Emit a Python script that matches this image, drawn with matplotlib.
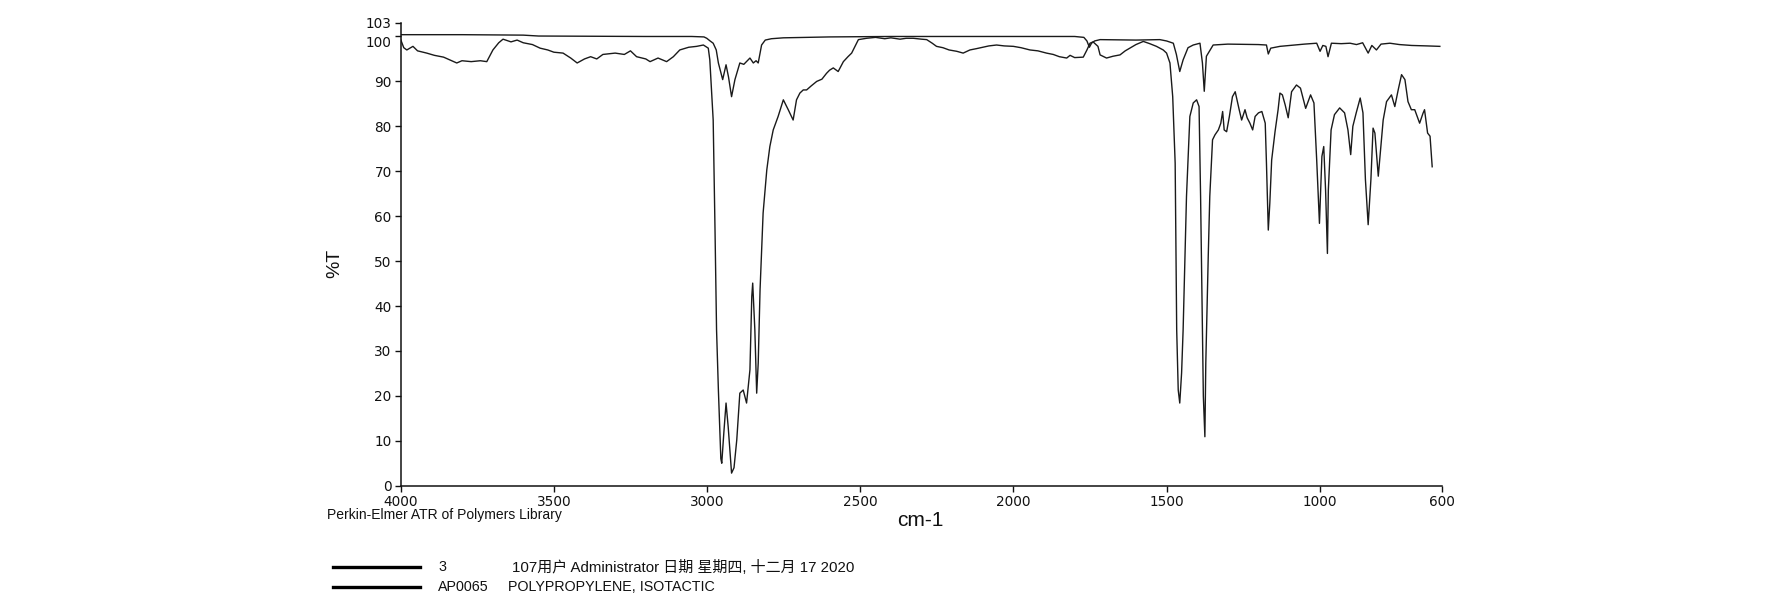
import matplotlib
matplotlib.use("Agg")
import matplotlib.pyplot as plt
import matplotlib.transforms as mtransforms
from matplotlib.lines import Line2D

# ---------------- data ----------------
sample_wn = [4000, 3990, 3980, 3960, 3945, 3915, 3890, 3860, 3840, 3817, 3800, 3770, 3740, 3719,
             3699, 3680, 3666, 3640, 3620, 3600, 3570, 3545, 3520, 3500, 3470, 3445, 3424, 3400,
             3380, 3360, 3340, 3300, 3270, 3250, 3230, 3200, 3186, 3160, 3132, 3110, 3089, 3060,
             3034, 3012, 2996, 2991, 2980, 2974, 2969, 2963, 2955, 2952, 2945, 2938, 2931, 2920,
             2912, 2903, 2893, 2882, 2871, 2860, 2854, 2851, 2844, 2838, 2833, 2827, 2817, 2805,
             2795, 2784, 2768, 2751, 2735, 2719, 2708, 2697, 2686, 2675, 2660, 2642, 2625, 2610,
             2600, 2588, 2572, 2555, 2540, 2528, 2506, 2479, 2450, 2420, 2400, 2370, 2350, 2327,
             2300, 2283, 2265, 2251, 2230, 2210, 2185, 2164, 2142, 2120, 2100, 2080, 2055, 2030,
             2000, 1975, 1946, 1920, 1892, 1870, 1850, 1826, 1815, 1800, 1772, 1760, 1750, 1740,
             1724, 1717, 1696, 1675, 1652, 1635, 1620, 1600, 1576, 1555, 1533, 1511, 1500, 1489,
             1480, 1472, 1467, 1462, 1457, 1451, 1446, 1435, 1424, 1413, 1402, 1394, 1389, 1386,
             1380, 1375, 1372, 1364, 1359, 1350, 1342, 1331, 1323, 1317, 1312, 1304, 1295, 1285,
             1276, 1263, 1255, 1244, 1237, 1228, 1219, 1211, 1200, 1189, 1178, 1174, 1168, 1163,
             1157, 1146, 1136, 1130, 1122, 1113, 1103, 1092, 1076, 1063, 1046, 1030, 1019, 1010,
             1001, 993, 987, 981, 975, 972, 963, 952, 935, 919, 908, 899, 892, 881, 868, 859,
             851, 842, 833, 826, 820, 809, 800, 793, 782, 766, 755, 744, 733, 722, 712, 701,
             690, 674, 663, 658, 648, 640, 633]
sample_t = [99.3, 97.5, 97.0, 97.8, 96.8, 96.3, 95.8, 95.4, 94.8, 94.1, 94.6, 94.4, 94.6, 94.4,
            97.0, 98.6, 99.4, 98.8, 99.2, 98.6, 98.2, 97.4, 97.0, 96.5, 96.3, 95.2, 94.1, 95.0,
            95.5, 95.0, 96.0, 96.3, 96.0, 96.8, 95.5, 95.0, 94.4, 95.2, 94.4, 95.5, 97.0, 97.6,
            97.8, 98.1, 97.4, 94.8, 81.4, 56.9, 34.7, 21.3, 6.0, 5.0, 12.0, 18.4, 13.1, 2.8,
            4.0, 10.2, 20.6, 21.3, 18.4, 25.8, 42.1, 45.1, 34.7, 20.6, 27.3, 43.6, 60.7, 70.3,
            75.5, 79.2, 82.2, 85.9, 83.7, 81.4, 85.9, 87.4, 88.1, 88.1, 89.0, 90.0, 90.5, 91.8,
            92.5, 93.0, 92.2, 94.4, 95.5, 96.3, 99.3, 99.6, 99.8, 99.5, 99.7, 99.4, 99.6, 99.6,
            99.4, 99.3, 98.5, 97.8, 97.5, 97.0, 96.7, 96.3, 97.0, 97.3, 97.6, 97.9, 98.1, 97.9,
            97.8, 97.5, 97.0, 96.8, 96.3, 96.0, 95.5, 95.2, 95.8, 95.3, 95.4, 97.0, 98.5, 98.8,
            97.8, 95.9, 95.2, 95.6, 95.9, 96.8, 97.4, 98.2, 98.9, 98.4, 97.8, 97.0, 96.3, 94.1,
            86.6, 71.8, 34.7, 21.3, 18.4, 25.1, 34.7, 64.4, 82.2, 85.2, 85.9, 84.4, 64.4, 49.6,
            19.9, 10.9, 27.3, 51.1, 64.4, 77.0, 78.1, 79.2, 80.7, 83.3, 79.2, 78.8, 82.2, 86.6,
            87.7, 83.7, 81.4, 83.7, 81.9, 80.7, 79.2, 82.2, 83.0, 83.3, 80.7, 71.8, 56.9, 62.9,
            72.5, 78.8, 83.7, 87.4, 87.0, 84.8, 81.9, 87.7, 89.2, 88.5, 84.0, 87.0, 85.2, 72.5,
            58.4, 73.3, 75.5, 65.8, 51.7, 65.8, 79.2, 82.6, 84.1, 83.0, 79.2, 73.7, 80.0, 83.0, 86.3, 83.0,
            68.2, 58.1, 68.2, 79.6, 78.5, 68.9, 76.0, 81.4, 85.5, 87.0, 84.4, 88.1, 91.5, 90.4, 85.5, 83.7,
            83.7, 80.7, 82.9, 83.7, 78.5, 77.8, 71.0]

ref_wn = [4000, 3800, 3600, 3550, 3200, 3050, 3010, 3001, 2990, 2980, 2970, 2963, 2949, 2938,
          2930, 2920, 2909, 2893, 2880, 2860, 2849, 2840, 2833, 2822, 2810, 2790, 2751, 2600,
          2400, 2000, 1800, 1770, 1760, 1752, 1745, 1735, 1717, 1600, 1522, 1500, 1478, 1468,
          1457, 1446, 1430, 1413, 1391, 1383, 1377, 1370, 1348, 1300, 1200, 1174, 1168, 1160,
          1130, 1050, 1010, 999, 990, 980, 973, 962, 930, 901, 880, 860, 842, 830, 815, 800,
          771, 740, 700, 650, 608]
ref_t = [100.4, 100.4, 100.3, 100.1, 100.0, 100.0, 99.9, 99.6, 99.0, 98.5, 97.0, 94.1, 90.4, 93.7,
         91.0, 86.6, 90.4, 94.1, 93.8, 95.2, 94.1, 94.6, 94.1, 98.1, 99.2, 99.5, 99.7, 99.9,
         100.0, 100.0, 100.0, 99.8, 99.0, 97.6, 98.5, 99.0, 99.3, 99.2, 99.3, 99.0, 98.5, 96.0,
         92.2, 94.8, 97.5, 98.1, 98.5, 94.1, 87.8, 95.6, 98.1, 98.3, 98.2, 98.1, 96.1, 97.4,
         97.8, 98.3, 98.5, 96.7, 98.0, 97.8, 95.5, 98.5, 98.4, 98.5, 98.2, 98.6, 96.3, 98.0, 97.0, 98.3,
         98.5, 98.2, 98.0, 97.9, 97.8]

x_ticks = [4000, 3500, 3000, 2500, 2000, 1500, 1000, 600]
y_ticks = [0, 10, 20, 30, 40, 50, 60, 70, 80, 90, 100, 103]

legend_ids = ["3", "AP0065"]
legend_desc = ["107用户 Administrator 日期 星期四, 十二月 17 2020",
               "POLYPROPYLENE, ISOTACTIC"]
footer_text = "Perkin-Elmer ATR of Polymers Library"
x_label = "cm-1"
y_label = "%T"

# ---------------- figure ----------------
W, H = 1775, 599
fig = plt.figure(figsize=(W / 100, H / 100), dpi=100)
fig.patch.set_facecolor("white")

def fx(px):
    return px / W

def fy(py):
    return 1 - py / H

left, right, top, bottom = 400.7, 1442.3, 23.0, 485.7
ax = fig.add_axes([fx(left), fy(bottom), fx(right) - fx(left), fy(top) - fy(bottom)])

line_col = "#1a1a1a"
ax.plot(ref_wn, ref_t, color=line_col, lw=1.0)
ax.plot(sample_wn, sample_t, color=line_col, lw=1.0)

ax.set_xlim(4000, 600)
ax.set_ylim(0, 103)
ax.set_xticks(x_ticks)
ax.set_xticklabels([str(v) for v in x_ticks])
ax.set_yticks(y_ticks)
ax.set_yticklabels([str(v) for v in y_ticks])

for s in ["top", "right"]:
    ax.spines[s].set_visible(False)
for s in ["left", "bottom"]:
    ax.spines[s].set_linewidth(1.1)
    ax.spines[s].set_color("#111111")

ax.tick_params(axis="both", direction="out", length=4, width=1.0, color="#111111",
               labelsize=9.8, labelcolor="#111111")
ax.tick_params(axis="y", pad=2.5)
ax.tick_params(axis="x", pad=2.5)
for lab in ax.get_xticklabels() + ax.get_yticklabels():
    lab.set_family("DejaVu Sans")

# the "100" label sits a little lower than its tick in the reference
ylabs = ax.get_yticklabels()
idx100 = y_ticks.index(100)
ylabs[idx100].set_transform(ylabs[idx100].get_transform() +
                            mtransforms.ScaledTranslation(0, -5 / 100, fig.dpi_scale_trans))

# axis labels as figure text
fig.text(fx(920), fy(520), x_label, ha="center", va="center", fontsize=15,
         family="Liberation Sans", color="#111111")
fig.text(fx(335), fy(263), y_label, ha="center", va="center", fontsize=14, rotation=90,
         family="Liberation Sans", color="#111111")
fig.text(fx(327), fy(515), footer_text, ha="left", va="center", fontsize=10,
         family="Liberation Sans", color="#111111")

# legend rows
row_y = [567.3, 587.3]
desc_x = [511.7, 508]
desc_size = [10.8, 10.3]
for i in range(2):
    fig.add_artist(Line2D([fx(333), fx(420)], [fy(row_y[i]), fy(row_y[i])],
                          transform=fig.transFigure, color="#000000", lw=2.4))
    fig.text(fx(438), fy(row_y[i]), legend_ids[i], ha="left", va="center", fontsize=10.3,
             family=["Liberation Sans", "Noto Sans CJK SC"], color="#111111")
    fig.text(fx(desc_x[i]), fy(row_y[i]), legend_desc[i], ha="left", va="center",
             fontsize=desc_size[i],
             family=["Liberation Sans", "Noto Sans CJK SC"], color="#111111")

fig.savefig("out.png", dpi=100, facecolor="white")
